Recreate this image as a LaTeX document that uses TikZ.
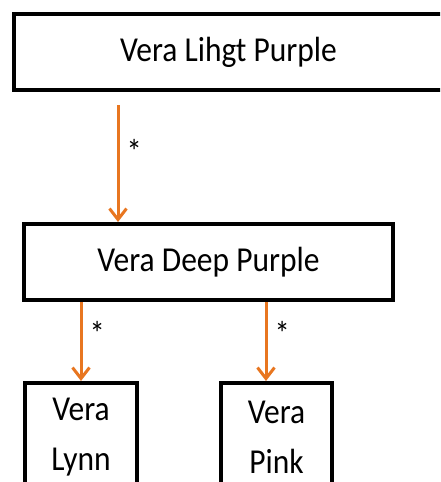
\documentclass[tikz,border=0pt]{standalone}
\usepackage{fontspec}
\setmainfont{Carlito}[FakeStretch=0.9]
\usetikzlibrary{arrows.meta}
\definecolor{arroworange}{RGB}{232,118,32}

\tikzset{
  classbox/.style={draw, line width=4pt, minimum height=76pt, inner sep=0pt,
    align=center, font=\fontsize{35}{50}\selectfont},
  link/.style={arroworange, line width=3pt,
    -{Straight Barb[length=11pt,width=17pt,line width=3pt]}},
  mult/.style={right, text=black, inner sep=7pt, font=\fontsize{34}{34}\selectfont}
}

\begin{document}
\begin{tikzpicture}[x=1pt,y=-1pt]
  \clip (0,0) rectangle (440,482);

  % Classes
  \node[classbox, minimum width=430pt, anchor=north west] (light) at (11.5,12) {Vera Lihgt Purple};
  \node[classbox, minimum width=369pt, anchor=north west] (deep) at (22,222) {Vera Deep Purple};
  \node[classbox, minimum width=112pt, minimum height=108pt, anchor=north west] (lynn) at (23,381) {Vera\\Lynn};
  \node[classbox, minimum width=111pt, minimum height=108pt, anchor=north west] (pink) at (219,381) {Vera\\Pink};

  % Associations
  \coordinate (from light) at (118,105);
  \draw[link] (from light) -- node[mult, pos=0.4] {*} (from light |- deep.north);

  \draw[link] (lynn.north |- deep.south) -- node[mult, pos=0.4] {*} (lynn.north);

  \coordinate (to pink) at (266,381);
  \draw[link] (to pink |- deep.south) -- node[mult, pos=0.4] {*} (to pink);
\end{tikzpicture}
\end{document}
